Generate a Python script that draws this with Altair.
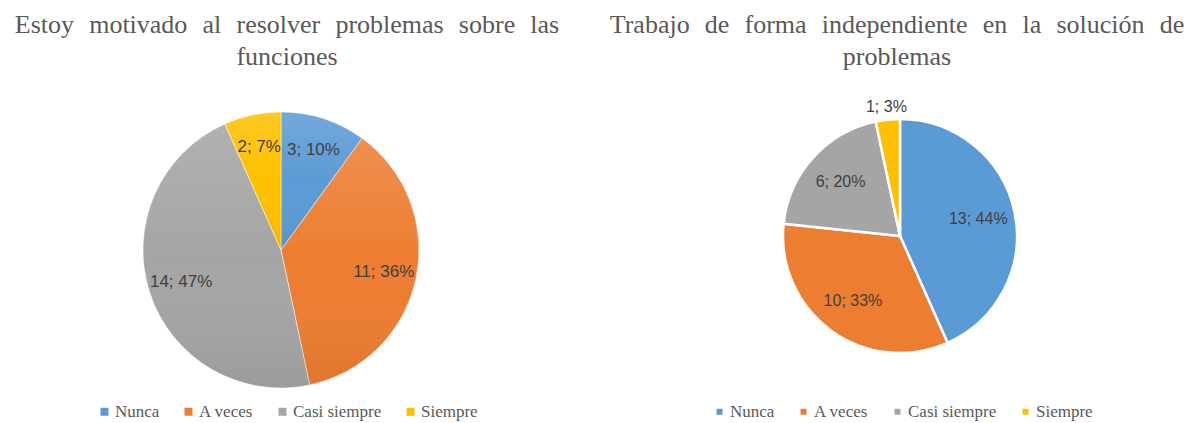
import altair as alt
import pandas as pd

categories = ["Nunca", "A veces", "Casi siempre", "Siempre"]
colors = ["#5B9BD5", "#ED7D31", "#A5A5A5", "#FFC000"]

left_title = ["Estoy motivado al resolver problemas sobre las", "funciones"]
left_counts = [3, 11, 14, 2]
left_pct = ["10%", "36%", "47%", "7%"]

right_title = ["Trabajo de forma independiente en la solución de", "problemas"]
right_counts = [13, 10, 6, 1]
right_pct = ["44%", "33%", "20%", "3%"]


def frame(counts, pct):
    return pd.DataFrame({
        "cat": categories,
        "idx": list(range(len(categories))),
        "n": counts,
        "label": [f"{c}; {p}" for c, p in zip(counts, pct)],
    })


def justify(lines):
    # widen the inter-word spacing of the first (justified) line
    return [lines[0].replace(" ", " \u2004")] + lines[1:]


left_df = frame(left_counts, left_pct)
right_df = frame(right_counts, right_pct)

LCX, LCY, LR = 273, 242, 138
RCX, RCY, RR = 892, 228, 117

serif = "Liberation Serif"
sans = "Liberation Sans"
grey_txt = "#595959"


def color_enc(legend_x, legend_y, sym_size):
    return alt.Color(
        "cat:N",
        scale=alt.Scale(domain=categories, range=colors),
        sort=categories,
        legend=alt.Legend(
            orient="none", legendX=legend_x, legendY=legend_y,
            direction="horizontal", title=None,
            symbolType="square", symbolSize=sym_size, symbolStrokeWidth=0,
            labelFont=serif, labelFontSize=17, labelColor=grey_txt,
            labelOffset=2, columnPadding=20,
        ),
    )


theta = alt.Theta("n:Q", stack=True)
order = alt.Order("idx:Q", sort="ascending")

left_arc = alt.Chart(left_df).mark_arc(radius=LR, stroke="white", strokeWidth=0.5).encode(
    theta=theta, order=order, x=alt.value(LCX), y=alt.value(LCY),
    color=color_enc(88, 395, 64),
)

shade = alt.Gradient(
    gradient="linear", x1=0, x2=0, y1=0, y2=1,
    stops=[
        alt.GradientStop(color="rgba(255,255,255,0.14)", offset=0),
        alt.GradientStop(color="rgba(255,255,255,0.0)", offset=0.5),
        alt.GradientStop(color="rgba(0,0,0,0.06)", offset=1),
    ],
)
left_shade = alt.Chart(left_df).mark_arc(radius=LR, fill=shade).encode(
    theta=theta, order=order, detail="cat:N", x=alt.value(LCX), y=alt.value(LCY),
)

left_text = alt.Chart(left_df).mark_text(
    radius=105, font=sans, fontSize=17, color="#404040"
).encode(
    theta=theta, order=order, detail="cat:N", text="label:N",
    x=alt.value(LCX), y=alt.value(LCY),
)

right_arc = alt.Chart(right_df).mark_arc(radius=RR, stroke="white", strokeWidth=2.5).encode(
    theta=theta, order=order, x=alt.value(RCX), y=alt.value(RCY),
    color=color_enc(703, 395, 36),
)

right_text = alt.Chart(right_df).mark_text(
    radius={"expr": "datum.n < 2 ? 130 : 80"}, font=sans, fontSize=16, color="#404040"
).encode(
    theta=theta, order=order, detail="cat:N", text="label:N",
    x=alt.value(RCX), y=alt.value(RCY),
)

left_ttl = alt.Chart(pd.DataFrame({"t": [justify(left_title)]})).mark_text(
    font=serif, fontSize=26, color=grey_txt, baseline="alphabetic", align="center",
    lineHeight=32,
).encode(text="t", x=alt.value(279), y=alt.value(25))

right_ttl = alt.Chart(pd.DataFrame({"t": [justify(right_title)]})).mark_text(
    font=serif, fontSize=26, color=grey_txt, baseline="alphabetic", align="center",
    lineHeight=32,
).encode(text="t", x=alt.value(889), y=alt.value(25))

chart = alt.layer(
    left_arc, left_shade, left_text, right_arc, right_text, left_ttl, right_ttl
).resolve_scale(
    theta="independent", color="independent"
).properties(
    width=1178, height=415, autosize=alt.AutoSizeParams(type="none"), padding=0,
).configure_view(stroke=None)

chart.save("out.html", embed_options={"renderer": "svg", "actions": False})
